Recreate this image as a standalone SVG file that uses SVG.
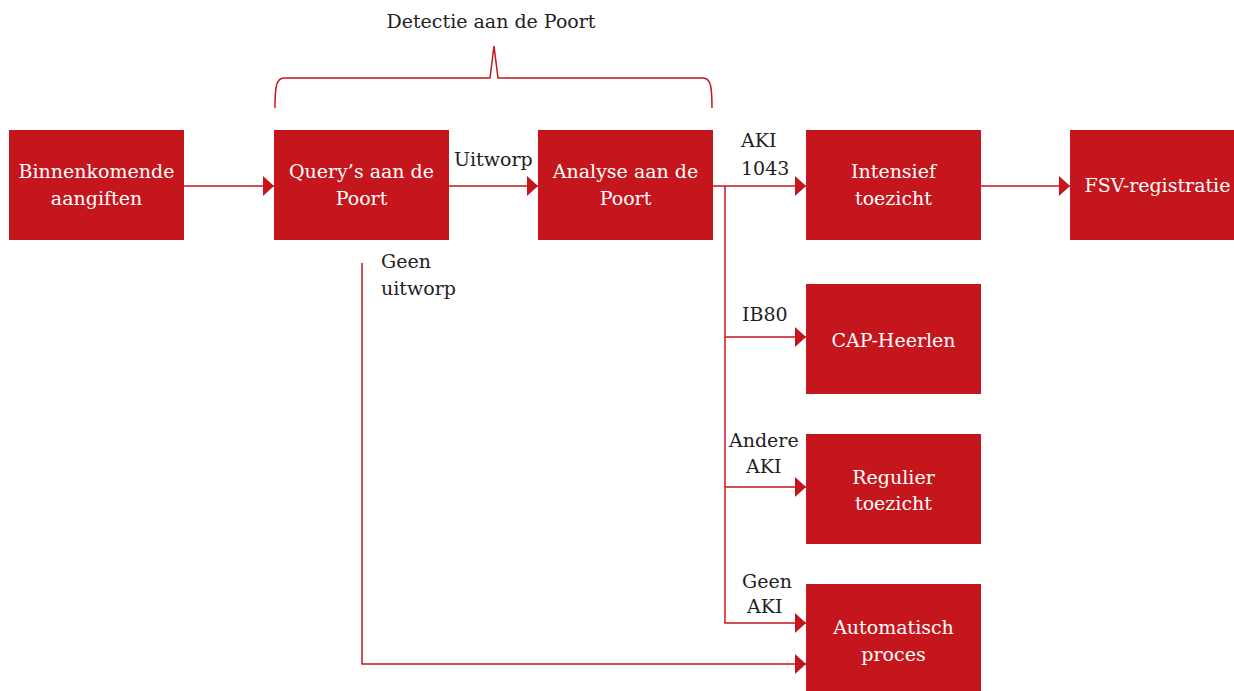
<svg xmlns="http://www.w3.org/2000/svg" width="1234" height="691" viewBox="0 0 1234 691">
<style>
.box{fill:#C4161C}
.bt{font-family:"DejaVu Serif","Liberation Serif",serif;font-size:19px;fill:#fff;text-anchor:middle}
.lt{font-family:"DejaVu Serif","Liberation Serif",serif;font-size:19px;fill:#222}
.ln{fill:none;stroke:#C4161C;stroke-width:1.5}
</style>
<defs>
<marker id="ah" markerWidth="11" markerHeight="20" refX="11" refY="10" orient="auto" markerUnits="userSpaceOnUse">
<path d="M0,0 L11,10 L0,20 Z" fill="#C4161C"/>
</marker>
</defs>
<rect width="1234" height="691" fill="#fff"/>
<g id="brace">
<path class="ln" d="M275,108 C275,88 276,78 284,78 L490,78 L494,46 L498,78 L703,78 C711,78 712,88 712,108"/>
<text class="lt" x="491" y="28" text-anchor="middle">Detectie aan de Poort</text>
</g>
<g id="connectors">
<line class="ln" x1="184" y1="186" x2="274" y2="186" marker-end="url(#ah)"/>
<line class="ln" x1="449" y1="186" x2="538" y2="186" marker-end="url(#ah)"/>
<line class="ln" x1="713" y1="186" x2="806" y2="186" marker-end="url(#ah)"/>
<line class="ln" x1="981" y1="186" x2="1070" y2="186" marker-end="url(#ah)"/>
<polyline class="ln" points="725,186 725,623"/>
<line class="ln" x1="725" y1="337" x2="806" y2="337" marker-end="url(#ah)"/>
<line class="ln" x1="725" y1="487" x2="806" y2="487" marker-end="url(#ah)"/>
<line class="ln" x1="724.25" y1="623" x2="806" y2="623" marker-end="url(#ah)"/>
<polyline class="ln" points="362,263 362,664 806,664" marker-end="url(#ah)"/>
<text class="lt" x="454" y="166">Uitworp</text>
<text class="lt" x="741" y="147">AKI</text>
<text class="lt" x="741" y="175">1043</text>
<text class="lt" x="742" y="321">IB80</text>
<text class="lt" x="729" y="447">Andere</text>
<text class="lt" x="746" y="473">AKI</text>
<text class="lt" x="742" y="588">Geen</text>
<text class="lt" x="747" y="613">AKI</text>
<text class="lt" x="381" y="268">Geen</text>
<text class="lt" x="381" y="295">uitworp</text>
</g>
<g id="n1"><rect class="box" x="9" y="130" width="175" height="110"/><text class="bt" x="96.5" y="178">Binnenkomende</text><text class="bt" x="96.5" y="205">aangiften</text></g>
<g id="n2"><rect class="box" x="274" y="130" width="175" height="110"/><text class="bt" x="361.5" y="178">Query’s aan de</text><text class="bt" x="361.5" y="205">Poort</text></g>
<g id="n3"><rect class="box" x="538" y="130" width="175" height="110"/><text class="bt" x="625.5" y="178">Analyse aan de</text><text class="bt" x="625.5" y="205">Poort</text></g>
<g id="n4"><rect class="box" x="806" y="130" width="175" height="110"/><text class="bt" x="893.5" y="178">Intensief</text><text class="bt" x="893.5" y="205">toezicht</text></g>
<g id="n5"><rect class="box" x="1070" y="130" width="175" height="110"/><text class="bt" x="1157.5" y="192">FSV-registratie</text></g>
<g id="n6"><rect class="box" x="806" y="284" width="175" height="110"/><text class="bt" x="893.5" y="347">CAP-Heerlen</text></g>
<g id="n7"><rect class="box" x="806" y="434" width="175" height="110"/><text class="bt" x="893.5" y="484">Regulier</text><text class="bt" x="893.5" y="510">toezicht</text></g>
<g id="n8"><rect class="box" x="806" y="584" width="175" height="107"/><text class="bt" x="893.5" y="634">Automatisch</text><text class="bt" x="893.5" y="661">proces</text></g>
</svg>
